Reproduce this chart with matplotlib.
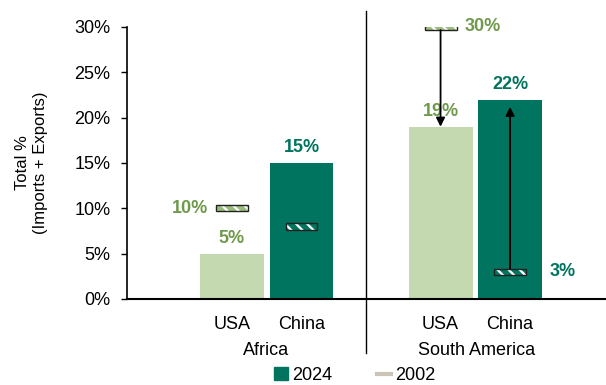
import matplotlib.pyplot as plt
from matplotlib.patches import Patch
from matplotlib.lines import Line2D
import matplotlib.transforms as mtransforms

plt.rcParams['font.family'] = ['Liberation Sans', 'DejaVu Sans']
plt.rcParams['hatch.linewidth'] = 4.0

# data
regions = ['Africa', 'South America']
countries = ['USA', 'China', 'USA', 'China']
val_2024 = [0.05, 0.15, 0.19, 0.22]
val_2002 = [0.10, 0.08, 0.30, 0.03]

usa_col = '#c5d9b1'
china_col = '#00745f'
usa_txt = '#6f9a4c'
china_txt = '#00745f'
stripe_usa = '#9bbd7c'
bar_cols = [usa_col, china_col, usa_col, china_col]
txt_cols = [usa_txt, china_txt, usa_txt, china_txt]

xpos = [0, 1, 3, 4]

fig = plt.figure(figsize=(6.06, 3.85), dpi=100)
ax = fig.add_axes([0.2096, 0.2234, 0.7904, 0.7065])

ax.bar(xpos, val_2024, width=0.92, color=bar_cols, zorder=2)

# 2002 markers: little hatched boxes
mh = 0.007
for x, v, c in zip(xpos, val_2002, bar_cols):
    stripe = stripe_usa if c == usa_col else china_col
    ax.bar(x, mh, bottom=v - mh / 2, width=0.46, facecolor='white',
           edgecolor=stripe, hatch='\\\\\\', linewidth=0, zorder=3)
    ax.bar(x, mh, bottom=v - mh / 2, width=0.46, fill=False,
           edgecolor='#222222', linewidth=1.0, zorder=4)

# arrows in South America
ax.annotate('', xy=(3, 0.19), xytext=(3, 0.30 - mh / 2),
            arrowprops=dict(arrowstyle='-|>', color='black', lw=1.3,
                            shrinkA=0, shrinkB=0, mutation_scale=13), zorder=5)
ax.annotate('', xy=(4, 0.212), xytext=(4, 0.03 + mh / 2),
            arrowprops=dict(arrowstyle='-|>', color='black', lw=1.3,
                            shrinkA=0, shrinkB=0, mutation_scale=13), zorder=5)

# value labels
lab_kw = dict(ha='center', va='center', fontsize=13, fontweight='bold')
for x, v, c in zip(xpos, val_2024, txt_cols):
    ax.text(x, v + 0.017, f'{v*100:.0f}%', color=c, **lab_kw)
ax.text(-0.6, val_2002[0], f'{val_2002[0]*100:.0f}%', color=usa_txt, **lab_kw)
ax.text(3.6, val_2002[2], f'{val_2002[2]*100:.0f}%', color=usa_txt, **lab_kw)
ax.text(4.76, val_2002[3], f'{val_2002[3]*100:.0f}%', color=china_txt, **lab_kw)

ax.set_xlim(-1.51, 5.38)
ax.set_ylim(0, 0.30)
ax.set_yticks([0, 0.05, 0.10, 0.15, 0.20, 0.25, 0.30])
ax.set_yticklabels(['0%', '5%', '10%', '15%', '20%', '25%', '30%'], fontsize=13)
ax.tick_params(axis='y', length=4, width=1, pad=8)
ax.set_xticks(xpos)
ax.set_xticklabels(countries, fontsize=13)
ax.tick_params(axis='x', length=0, pad=12)

for s in ['top', 'right']:
    ax.spines[s].set_visible(False)
ax.spines['left'].set_linewidth(1.2)
ax.spines['bottom'].set_linewidth(1.5)

# region separator and region names
trans = mtransforms.blended_transform_factory(ax.transData, ax.transAxes)
ax.plot([1.93, 1.93], [-0.2, 1.06], color='black', lw=1.0,
        transform=trans, clip_on=False)
ax.text(0.49, -0.19, regions[0], transform=trans, ha='center', va='center', fontsize=13)
ax.text(3.52, -0.19, regions[1], transform=trans, ha='center', va='center', fontsize=13)

ax.set_ylabel('Total %\n(Imports + Exports)', fontsize=12, labelpad=19, linespacing=1.2)

handles = [Patch(color=china_col, label='2024'),
           Line2D([0], [0], color='#c9c4b5', lw=3, label='2002')]
fig.legend(handles=handles, loc='center', bbox_to_anchor=(0.585, 0.025), ncol=2,
           frameon=False, fontsize=13, handlelength=0.8, handletextpad=0.2,
           columnspacing=2.5)

fig.savefig('out.png', dpi=100)
